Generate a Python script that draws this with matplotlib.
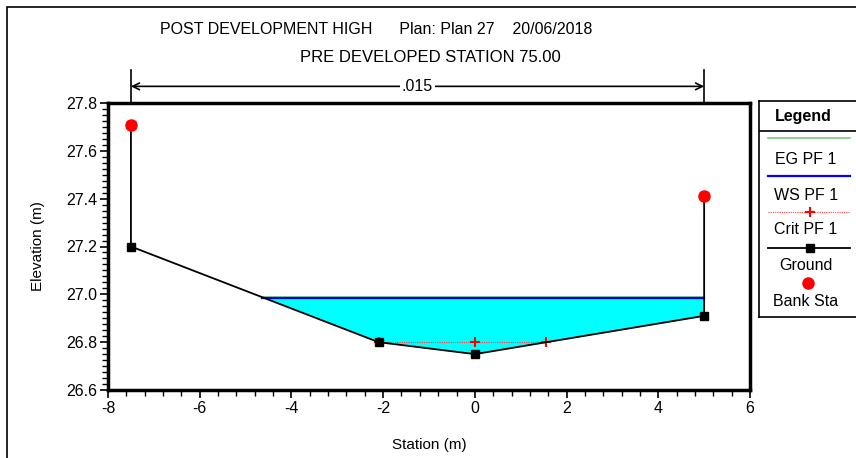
import numpy as np
import matplotlib.pyplot as plt
import matplotlib.transforms as mtransforms
from matplotlib.patches import Rectangle
from matplotlib.ticker import MultipleLocator

plt.rcParams['font.family'] = ['Liberation Sans', 'DejaVu Sans']
plt.rcParams['axes.unicode_minus'] = False

# ground profile (station, elevation)
ground_sta = [-7.5, -7.5, -2.1, 0.0, 5.0, 5.0]
ground_elev = [27.71, 27.20, 26.80, 26.75, 26.91, 27.41]
bank_sta = [-7.5, 5.0]
bank_elev = [27.71, 27.41]
ws_elev = 26.985
eg_elev = 26.99
ws_left, ws_right = -4.64, 5.0
crit_sta = [-2.1, 0.0, 1.56]
crit_elev = [26.80, 26.80, 26.80]
n_value = ".015"

W, H = 856, 458
fig = plt.figure(figsize=(W / 100, H / 100), dpi=100)

def fx(px):
    return px / W

def fy(py):
    return 1 - py / H

# outer frame
fig.add_artist(Rectangle((fx(7), -0.1), 1.2, fy(7) + 0.1, transform=fig.transFigure,
                         fill=False, lw=1.2, ec='black'))

ax = fig.add_axes([fx(108), fy(390), fx(750) - fx(108), fy(103) - fy(390)])
ax.set_xlim(-8, 6)
ax.set_ylim(26.6, 27.8)

# water fill
inner_sta = [s for s in ground_sta[1:-1] if ws_left < s < ws_right]
poly_x = [ws_left] + inner_sta + [ws_right]
poly_g = np.interp(poly_x, ground_sta[1:-1], ground_elev[1:-1])
ax.fill_between(poly_x, poly_g, ws_elev, color='#00FFFF', lw=0, zorder=1)
ax.plot([ws_left, ws_right], [eg_elev, eg_elev], color='#80C880', lw=1.2, zorder=2)
ax.plot([ws_left, ws_right], [ws_elev, ws_elev], color='#0000FF', lw=1.6, zorder=3)
ax.plot(crit_sta, crit_elev, color='#FF4040', lw=0.8, ls=(0, (1, 1)), marker='+',
        ms=7, mew=1.5, mec='#FF0000', zorder=4)
ax.plot(ground_sta, ground_elev, color='black', lw=1.3, marker='s', ms=6, zorder=5)
ax.plot(bank_sta, bank_elev, ls='none', marker='o', color='#FF0000', ms=8, zorder=6)

ax.xaxis.set_major_locator(MultipleLocator(2))
ax.xaxis.set_minor_locator(MultipleLocator(0.4))
ax.yaxis.set_major_locator(MultipleLocator(0.2))
ax.yaxis.set_minor_locator(MultipleLocator(0.025))
ax.yaxis.set_major_formatter(plt.FuncFormatter(lambda v, p: f"{v:.1f}"))
ax.xaxis.set_major_formatter(plt.FuncFormatter(lambda v, p: f"{v:.0f}"))
ax.tick_params(which='major', direction='out', length=6, width=1.2, labelsize=11.5, pad=2)
ax.tick_params(which='minor', direction='out', length=4, width=1.0)
for s in ax.spines.values():
    s.set_linewidth(2.5)
ax.set_xlabel("Station (m)", fontsize=11, labelpad=16)
ax.set_ylabel("Elevation (m)", fontsize=11, labelpad=15)

# roughness dimension line above the plot
trans = mtransforms.blended_transform_factory(ax.transData, ax.transAxes)
for s in bank_sta:
    ax.plot([s, s], [1.0, 1.115], color='black', lw=1.2, transform=trans, clip_on=False)
ax.annotate('', xy=(bank_sta[0], 1.058), xytext=(bank_sta[1], 1.058),
            xycoords=trans, textcoords=trans,
            arrowprops=dict(arrowstyle='<->', lw=1.2, color='black',
                            shrinkA=0, shrinkB=0, mutation_scale=12))
ax.text(sum(bank_sta) / 2, 1.058, n_value, transform=trans, ha='center', va='center',
        fontsize=11.5, bbox=dict(fc='white', ec='none', pad=1.5), clip_on=False)

# titles
fig.text(fx(376), fy(30), "POST DEVELOPMENT HIGH      Plan: Plan 27    20/06/2018",
         ha='center', va='center', fontsize=11.5)
fig.text(fx(430), fy(57), "PRE DEVELOPED STATION 75.00", ha='center', va='center', fontsize=12)

# legend box
lg = fig.add_axes([fx(759), fy(317), fx(860) - fx(759), fy(101) - fy(317)])
lg.set_xlim(759, 860)
lg.set_ylim(317, 101)
lg.set_xticks([])
lg.set_yticks([])
for s in lg.spines.values():
    s.set_linewidth(1.2)
lg.text(803, 116, "Legend", ha='center', va='center', fontsize=11.5, fontweight='bold')
lg.plot([759, 860], [131, 131], color='black', lw=1.2)
lg.plot([768, 850], [138, 138], color='#80C880', lw=1.2)
lg.text(806, 159, "EG PF 1", ha='center', va='center', fontsize=11.5)
lg.plot([768, 850], [176, 176], color='#0000FF', lw=1.6)
lg.text(806, 196, "WS PF 1", ha='center', va='center', fontsize=11.5)
lg.plot([768, 850], [212, 212], color='#FF4040', lw=0.8, ls=(0, (1, 1)))
lg.plot([810], [212], marker='+', ms=7, mew=1.5, color='#FF0000')
lg.text(806, 230, "Crit PF 1", ha='center', va='center', fontsize=11.5)
lg.plot([768, 850], [248, 248], color='black', lw=1.3)
lg.plot([810], [248], marker='s', ms=6, color='black')
lg.text(806, 266, "Ground", ha='center', va='center', fontsize=11.5)
lg.plot([808], [283], marker='o', ms=8, color='#FF0000')
lg.text(806, 301, "Bank Sta", ha='center', va='center', fontsize=11.5)

fig.savefig('out.png', dpi=100)
